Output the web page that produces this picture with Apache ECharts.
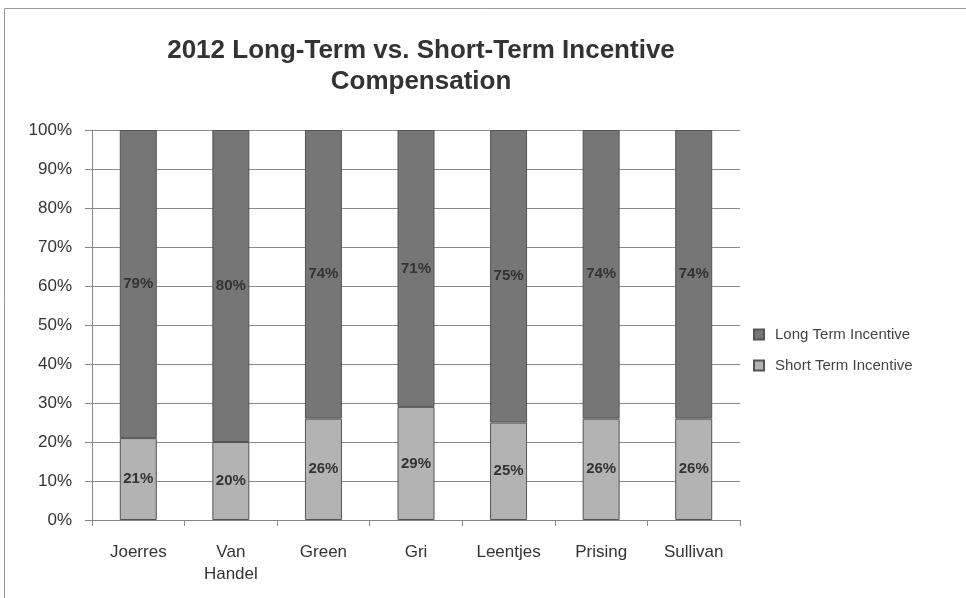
<!DOCTYPE html>
<html>
<head>
<meta charset="utf-8">
<script src="https://cdn.jsdelivr.net/npm/echarts@6/dist/echarts.min.js"></script>
<style>
  html, body { margin: 0; padding: 0; background: #fff; }
  #chart { width: 966px; height: 598px; }
</style>
</head>
<body>
<div id="chart"></div>
<script>
var names = ['Joerres', 'Van\nHandel', 'Green', 'Gri', 'Leentjes', 'Prising', 'Sullivan'];
var shortTerm = [21, 20, 26, 29, 25, 26, 26];
var longTerm = [79, 80, 74, 71, 75, 74, 74];
var yTicks = [0, 10, 20, 30, 40, 50, 60, 70, 80, 90, 100];

var myChart = echarts.init(document.getElementById('chart'));
var font = 'Liberation Sans, Arial, sans-serif';

var option = {
    backgroundColor: '#fff',
    animation: false,
    title: {
        text: '2012 Long-Term vs. Short-Term Incentive\nCompensation',
        left: 416,
        textAlign: 'center',
        top: 30,
        textStyle: {
            fontFamily: font,
            fontSize: 26,
            fontWeight: 'bold',
            color: '#333',
            lineHeight: 31
        }
    },
    graphic: [{
        type: 'rect',
        shape: { x: 4.5, y: 8.5, width: 1000, height: 1000 },
        style: { fill: 'none', stroke: '#999', lineWidth: 1 },
        silent: true
    }],
    legend: {
        orient: 'vertical',
        left: 748,
        top: 322,
        icon: 'rect',
        itemWidth: 10,
        itemHeight: 10,
        itemGap: 16,
        data: ['Long Term Incentive', 'Short Term Incentive'],
        textStyle: { fontFamily: font, fontSize: 15, color: '#444', padding: [0, 0, 0, 6] }
    },
    grid: {
        left: 92,
        right: 226,
        top: 130,
        bottom: 78
    },
    xAxis: {
        type: 'category',
        data: names,
        axisLine: { lineStyle: { color: '#888' } },
        axisTick: { show: true, alignWithLabel: false, length: 6, lineStyle: { color: '#888' } },
        axisLabel: { fontFamily: font, fontSize: 17, color: '#333', margin: 21, lineHeight: 22 }
    },
    yAxis: {
        type: 'value',
        min: 0,
        max: 100,
        interval: 10,
        axisLine: { show: true, lineStyle: { color: '#888' } },
        axisTick: { show: true, length: 7, lineStyle: { color: '#888' } },
        splitLine: { lineStyle: { color: '#8a8a8a' } },
        axisLabel: {
            fontFamily: font, fontSize: 17, color: '#333', margin: 20,
            formatter: function (v) { return yTicks.indexOf(v) >= 0 ? v + '%' : ''; }
        }
    },
    series: [{
        name: 'Short Term Incentive',
        type: 'bar',
        stack: 'total',
        barWidth: 37,
        data: shortTerm,
        itemStyle: { color: '#b3b3b3', borderColor: '#555', borderWidth: 1 },
        label: {
            show: true, position: 'inside', formatter: '{c}%',
            fontFamily: font, fontSize: 15, fontWeight: 'bold', color: '#333'
        }
    }, {
        name: 'Long Term Incentive',
        type: 'bar',
        stack: 'total',
        barWidth: 37,
        data: longTerm,
        itemStyle: { color: '#767676', borderColor: '#555', borderWidth: 1 },
        label: {
            show: true, position: 'inside', formatter: '{c}%',
            fontFamily: font, fontSize: 15, fontWeight: 'bold', color: '#333'
        }
    }]
};
myChart.setOption(option);
</script>
</body>
</html>
